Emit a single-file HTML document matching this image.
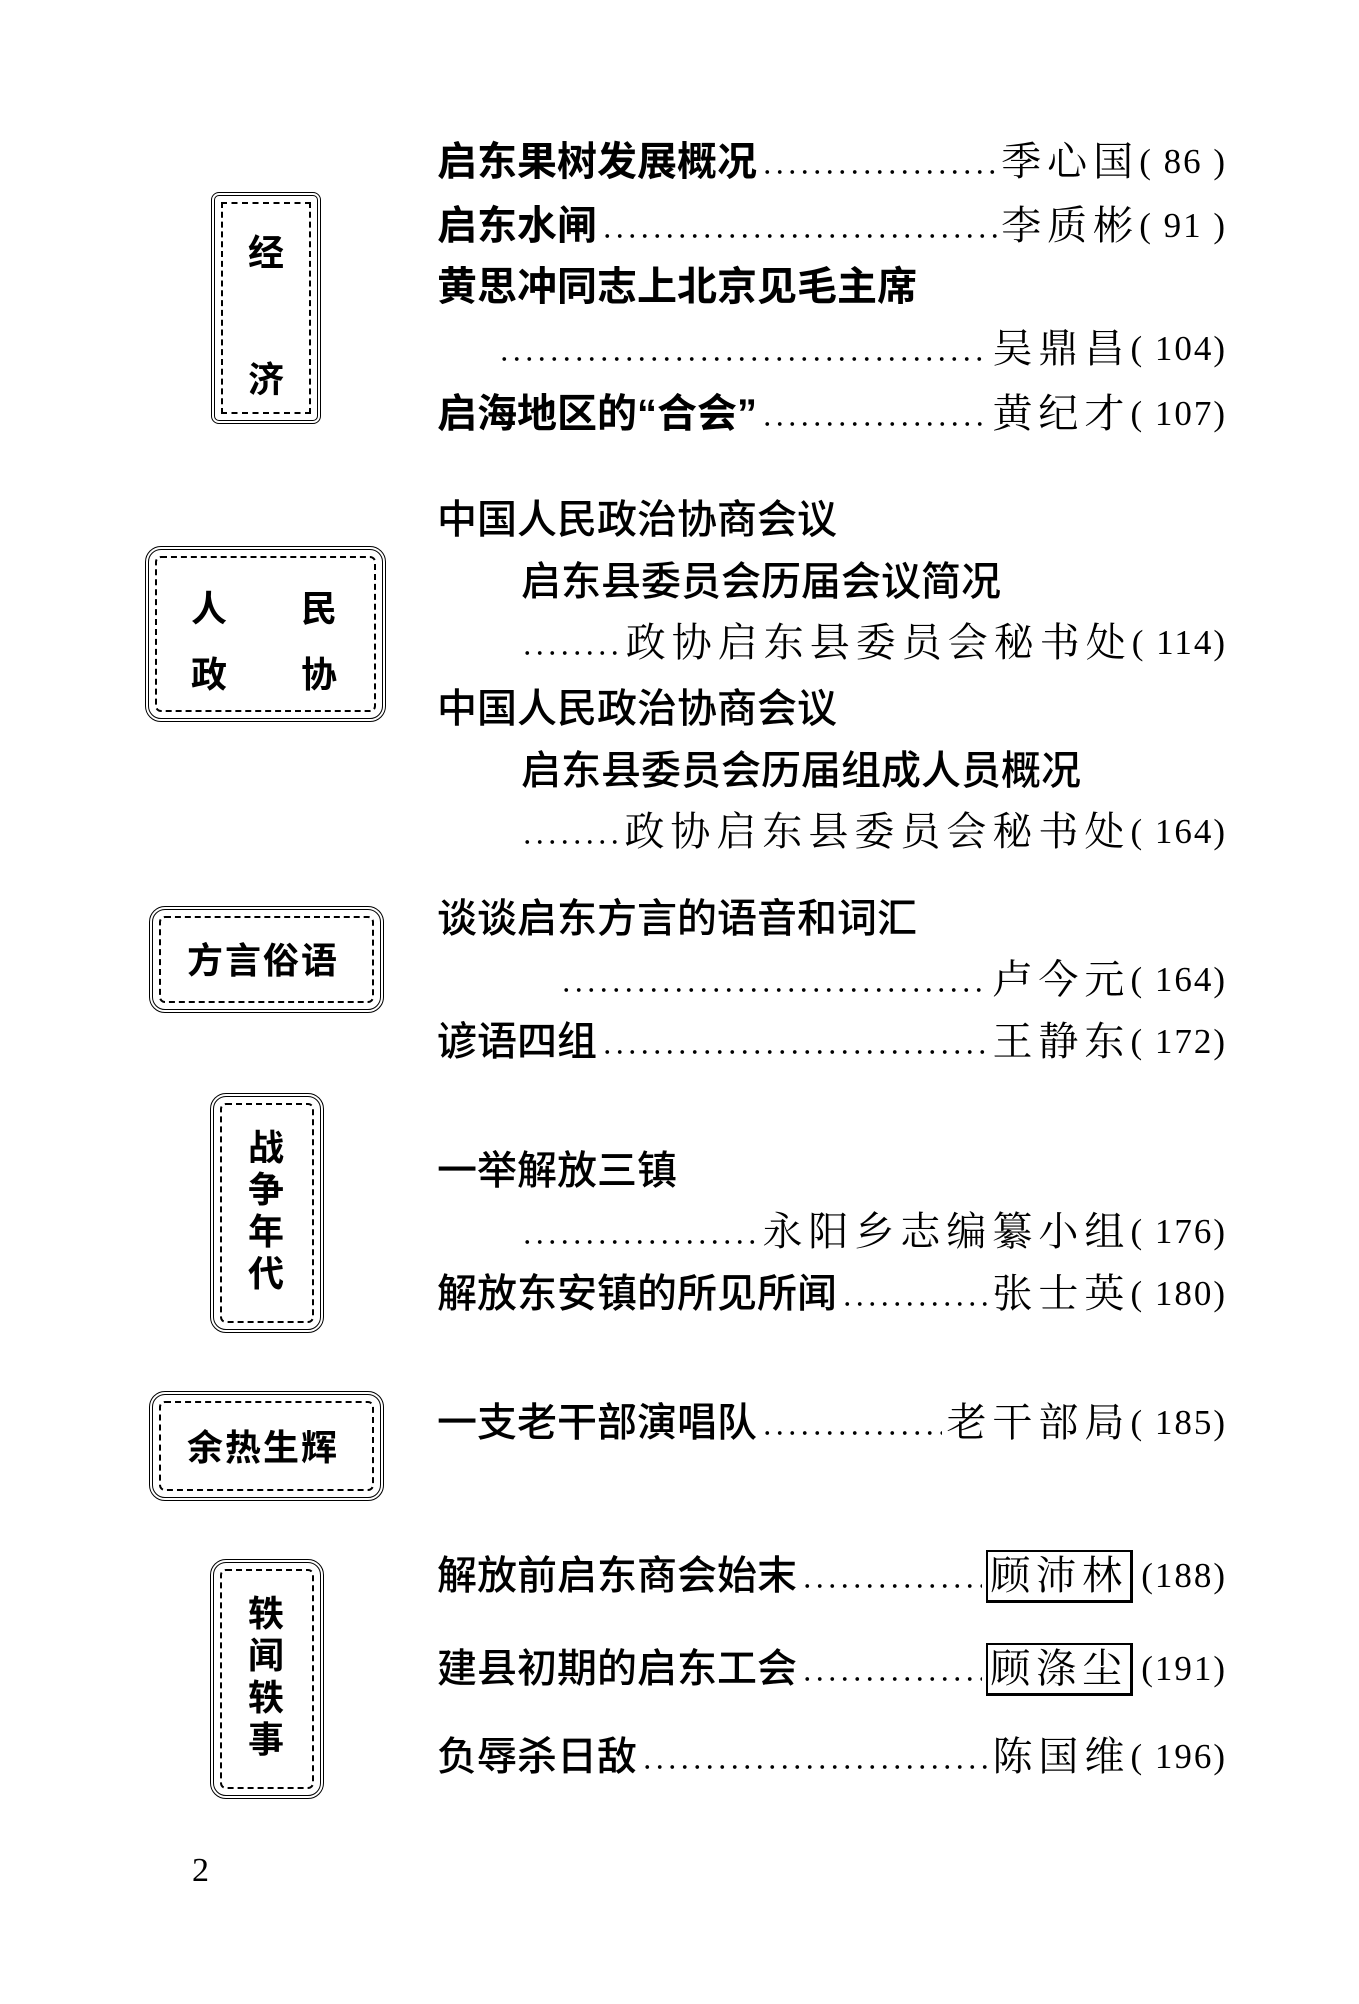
<!DOCTYPE html>
<html><head><meta charset="utf-8"><style>
html,body{margin:0;padding:0;background:#fff}
body{width:1359px;height:2004px;position:relative;overflow:hidden;font-family:"Liberation Serif","Noto Serif CJK SC",serif;color:#000}
.r{position:absolute;left:437px;right:132px;height:48px;display:flex;align-items:center;font-size:40px;line-height:48px;white-space:nowrap}
.t{font-family:"Liberation Sans","Noto Sans CJK SC",sans-serif;font-weight:500}
.b{font-weight:700}
.in{left:521px}
.l{flex:1;align-self:stretch;margin:0 4px;background:radial-gradient(circle,#000 1.6px,transparent 2.1px) repeat-x;background-size:12.5px 48px;background-position:0 10px}
.a{font-family:"Liberation Serif","Noto Serif CJK SC",serif;letter-spacing:6px;font-weight:400}
.p{font-family:"Liberation Serif",serif;font-size:35px;letter-spacing:2px;font-weight:400}
.box{position:absolute;border:4px double #000;border-radius:16px;outline:2px dashed #000;outline-offset:-12px;font-family:"Liberation Sans","Noto Sans CJK SC",sans-serif;font-weight:700;font-size:36px}
.c{position:absolute}
.fr{border:2px solid #000;border-width:2px 3px 3px 2px;padding:0 2px}
</style></head><body>
<div class="box" style="left:211px;top:192px;width:102px;height:224px;border-radius:8px"><div class="c" style="left:33px;top:28px">经</div><div class="c" style="left:33px;top:155px">济</div></div>
<div class="box" style="left:145px;top:546px;width:233px;height:168px"><div class="c" style="left:42px;top:30px">人</div><div class="c" style="left:152px;top:30px">民</div><div class="c" style="left:42px;top:96px">政</div><div class="c" style="left:152px;top:96px">协</div></div>
<div class="box" style="left:149px;top:906px;width:227px;height:99px"><div class="c" style="left:34px;top:22px;letter-spacing:2px">方言俗语</div></div>
<div class="box" style="left:210px;top:1093px;width:106px;height:232px"><div class="c" style="left:34px;top:30px;line-height:42px;width:40px">战<br>争<br>年<br>代</div></div>
<div class="box" style="left:149px;top:1391px;width:227px;height:102px"><div class="c" style="left:34px;top:24px;letter-spacing:2px">余热生辉</div></div>
<div class="box" style="left:210px;top:1559px;width:106px;height:232px"><div class="c" style="left:34px;top:30px;line-height:42px;width:40px">轶<br>闻<br>轶<br>事</div></div>

<div class="r t b" style="top:138px"><span>启东果树发展概况</span><span class="l"></span><span class="a">季心国</span><span class="p">( 86 )</span></div>
<div class="r t b" style="top:202px"><span>启东水闸</span><span class="l"></span><span class="a">李质彬</span><span class="p">( 91 )</span></div>
<div class="r t b" style="top:263px"><span>黄思冲同志上北京见毛主席</span></div>
<div class="r" style="top:325px;left:498px"><span class="l" style="margin-left:0"></span><span class="a">吴鼎昌</span><span class="p">( 104)</span></div>
<div class="r t b" style="top:390px"><span>启海地区的“合会”</span><span class="l"></span><span class="a">黄纪才</span><span class="p">( 107)</span></div>

<div class="r t" style="top:496px"><span>中国人民政治协商会议</span></div>
<div class="r t in" style="top:558px"><span>启东县委员会历届会议简况</span></div>
<div class="r in" style="top:619px"><span class="l" style="margin-left:0"></span><span class="a">政协启东县委员会秘书处</span><span class="p">( 114)</span></div>
<div class="r t" style="top:685px"><span>中国人民政治协商会议</span></div>
<div class="r t in" style="top:747px"><span>启东县委员会历届组成人员概况</span></div>
<div class="r in" style="top:808px"><span class="l" style="margin-left:0"></span><span class="a">政协启东县委员会秘书处</span><span class="p">( 164)</span></div>

<div class="r t" style="top:895px"><span>谈谈启东方言的语音和词汇</span></div>
<div class="r" style="top:956px;left:560px"><span class="l" style="margin-left:0"></span><span class="a">卢今元</span><span class="p">( 164)</span></div>
<div class="r t" style="top:1018px"><span>谚语四组</span><span class="l"></span><span class="a">王静东</span><span class="p">( 172)</span></div>

<div class="r t" style="top:1147px"><span>一举解放三镇</span></div>
<div class="r" style="top:1208px;left:521px"><span class="l" style="margin-left:0"></span><span class="a">永阳乡志编纂小组</span><span class="p">( 176)</span></div>
<div class="r t" style="top:1270px"><span>解放东安镇的所见所闻</span><span class="l"></span><span class="a">张士英</span><span class="p">( 180)</span></div>

<div class="r t" style="top:1399px"><span>一支老干部演唱队</span><span class="l"></span><span class="a">老干部局</span><span class="p">( 185)</span></div>

<div class="r t" style="top:1552px"><span>解放前启东商会始末</span><span class="l"></span><span class="a fr">顾沛林</span><span class="p" style="margin-left:8px">(188)</span></div>
<div class="r t" style="top:1645px"><span>建县初期的启东工会</span><span class="l"></span><span class="a fr">顾涤尘</span><span class="p" style="margin-left:8px">(191)</span></div>
<div class="r t" style="top:1733px"><span>负辱杀日敌</span><span class="l"></span><span class="a">陈国维</span><span class="p">( 196)</span></div>

<div style="position:absolute;left:192px;top:1852px;font-size:34px;font-family:'Liberation Serif',serif">2</div>
</body></html>
